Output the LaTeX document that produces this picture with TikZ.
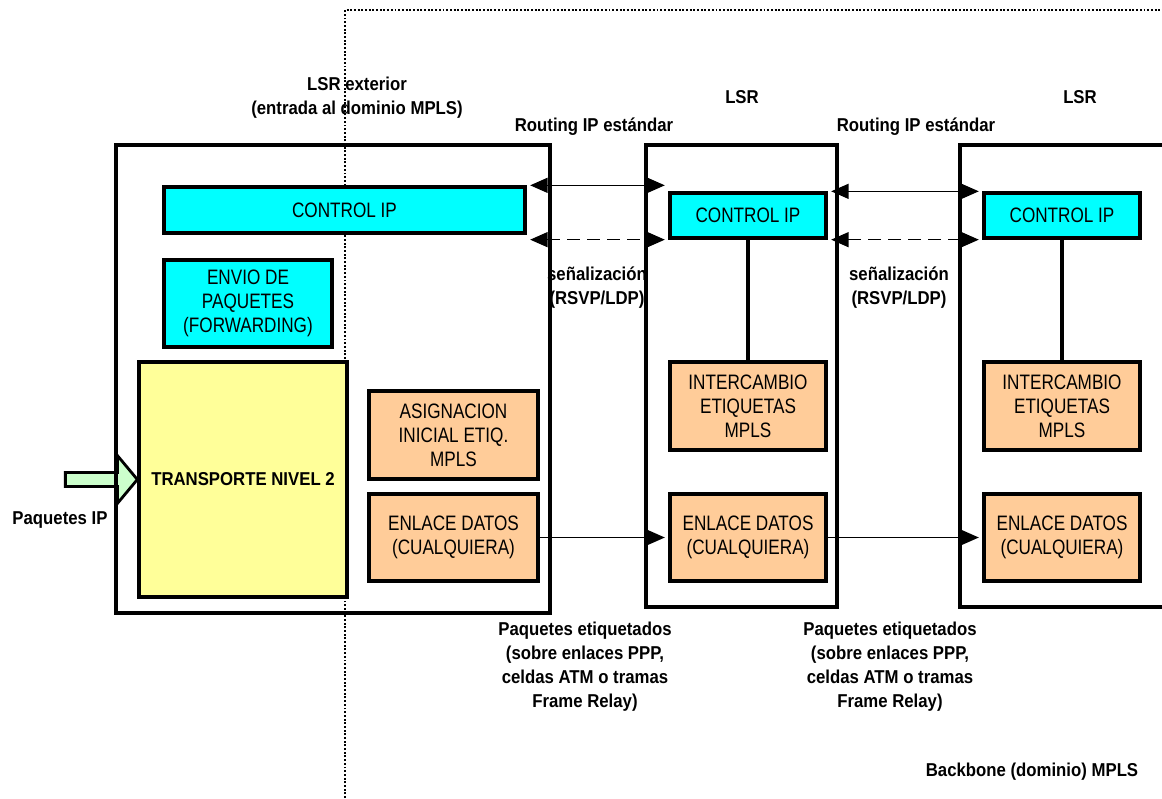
\documentclass[tikz,border=0pt]{standalone}
\usepackage{fontspec}
\setmainfont{Liberation Sans}
\newfontfamily\boxfont{Liberation Sans}[FakeStretch=0.82]
\newfontfamily\tagfont{Liberation Sans}[FakeStretch=0.9]
\usetikzlibrary{arrows.meta}
\pgfdeclarelayer{background}
\pgfsetlayers{background,main}
\definecolor{ctrlcyan}{RGB}{0,255,255}
\definecolor{transyellow}{RGB}{255,255,153}
\definecolor{mplsorange}{RGB}{255,204,153}
\definecolor{ipgreen}{RGB}{204,255,204}

\begin{document}
\begin{tikzpicture}[x=0.02cm, y=-0.02cm,
  every node/.style={font=\boxfont\fontsize{11.9}{13.7}\selectfont},
  lsrbox/.style={draw, line width=2pt, inner sep=0pt},
  ctrlbox/.style={draw, line width=1.9pt, fill=ctrlcyan,
    align=center, inner sep=0pt},
  mplsbox/.style={draw, line width=1.9pt, fill=mplsorange,
    align=center, inner sep=0pt},
  transbox/.style={draw, line width=1.9pt, fill=transyellow,
    align=center, inner sep=0pt},
  tag/.style={align=center, inner sep=0pt,
    font=\tagfont\bfseries\fontsize{10.6}{13.7}\selectfont},
  dbl/.style={{Triangle[length=3.5mm,width=3mm]}-{Triangle[length=3.5mm,width=3mm]},
    line width=0.9pt, shorten <=2pt, shorten >=2pt},
  sig/.style={dbl, dash pattern=on 2.6mm off 1.4mm},
  data/.style={-{Triangle[length=3.5mm,width=3mm]}, line width=0.9pt, shorten >=2pt},
  link/.style={line width=1.9pt},
  mplsedge/.style={densely dotted, line width=1.1pt},
  inarrow/.style={draw, line width=1.6pt, fill=ipgreen, line join=miter},
]
\useasboundingbox (0,0) rectangle (1162,798);
\clip (0,0) rectangle (1162,798);

% backbone border
\draw[mplsedge] (345,798) -- (345,10) -- (1162,10);

% routers
\node[lsrbox, minimum width=8.68cm, minimum height=9.36cm] at (333,379)    (lsr1) {};
\node[lsrbox, minimum width=3.82cm, minimum height=9.24cm] at (741.5,376)  (lsr2) {};
\node[lsrbox, minimum width=4.6cm,  minimum height=9.24cm] at (1075,376)   (lsr3) {};

% edge LSR
\node[ctrlbox, minimum width=7.22cm, minimum height=0.92cm] at (344.5,210) (ctrl1) {CONTROL IP};
\node[ctrlbox, minimum width=3.36cm, minimum height=1.74cm] at (248,303.5) (envio) {ENVIO DE\\PAQUETES\\(FORWARDING)};
\node[transbox, minimum width=4.16cm, minimum height=4.7cm] at (243,479.5) (transp) {\tagfont\bfseries\fontsize{10.6}{13.7}\selectfont TRANSPORTE NIVEL 2};
\node[mplsbox, minimum width=3.38cm, minimum height=1.76cm] at (453.5,435)   (asign)   {ASIGNACION\\INICIAL ETIQ.\\MPLS};
\node[mplsbox, minimum width=3.38cm, minimum height=1.74cm] at (453.5,537.5) (enlace1) {ENLACE DATOS\\(CUALQUIERA)};

% core LSRs
\node[ctrlbox, minimum width=3.12cm, minimum height=0.9cm]  at (748,215.5) (ctrl2)   {CONTROL IP};
\node[mplsbox, minimum width=3.12cm, minimum height=1.76cm] at (748,406)   (inter2)  {INTERCAMBIO\\ETIQUETAS\\MPLS};
\node[mplsbox, minimum width=3.12cm, minimum height=1.74cm] at (748,537.5) (enlace2) {ENLACE DATOS\\(CUALQUIERA)};

\node[ctrlbox, minimum width=3.12cm, minimum height=0.9cm]  at (1062,215.5) (ctrl3)   {CONTROL IP};
\node[mplsbox, minimum width=3.12cm, minimum height=1.76cm] at (1062,406)   (inter3)  {INTERCAMBIO\\ETIQUETAS\\MPLS};
\node[mplsbox, minimum width=3.12cm, minimum height=1.74cm] at (1062,537.5) (enlace3) {ENLACE DATOS\\(CUALQUIERA)};

% labels
\node[tag] at (357,98)   (lsrext)  {LSR exterior\\(entrada al dominio MPLS)};
\node[tag] at (742,97)   (lsrname2) {LSR};
\node[tag] at (1080,97)  (lsrname3) {LSR};
\node[tag] at (594,127)  (rout1)   {Routing IP estándar};
\node[tag] at (916,127)  (rout2)   {Routing IP estándar};
\node[tag] at (597,288)  (senal1)  {señalización\\(RSVP/LDP)};
\node[tag] at (899,288)  (senal2)  {señalización\\(RSVP/LDP)};
\node[tag] at (60,520)   (paqip)   {Paquetes IP};
\node[tag] at (585,667)  (paqet1)  {Paquetes etiquetados\\(sobre enlaces PPP,\\celdas ATM o tramas\\Frame Relay)};
\node[tag] at (890,667)  (paqet2)  {Paquetes etiquetados\\(sobre enlaces PPP,\\celdas ATM o tramas\\Frame Relay)};
\node[tag] at (1032,772) (backbone) {Backbone (dominio) MPLS};

\begin{pgfonlayer}{background}
\draw[inarrow] (transp.west) -- ++(-20,-24) -- ++(0,17) -- ++(-52,0)
  -- ++(0,14) -- ++(52,0) -- ++(0,17) -- cycle;
\end{pgfonlayer}

\draw[dbl] (ctrl1.north east) -- (ctrl2.west |- ctrl1.north east);
\draw[sig] (ctrl1.east |- ctrl2.south) -- (ctrl2.south west);
\draw[dbl] (ctrl2.north east) -- (ctrl3.north west);
\draw[sig] (ctrl2.south east) -- (ctrl3.south west);
\draw[link] (ctrl2.south) -- (inter2.north);
\draw[link] (ctrl3.south) -- (inter3.north);
\draw[data] (enlace1.east) -- (enlace2.west);
\draw[data] (enlace2.east) -- (enlace3.west);
\end{tikzpicture}
\end{document}
